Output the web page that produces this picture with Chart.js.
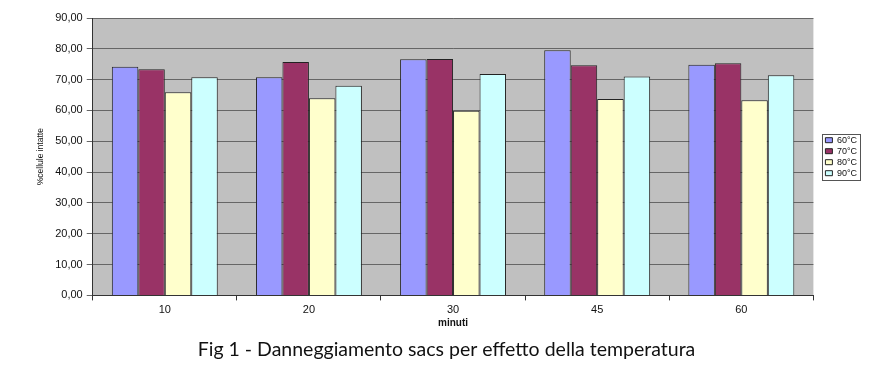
<!DOCTYPE html>
<html>
<head>
<meta charset="utf-8">
<script src="https://cdn.jsdelivr.net/npm/chart.js@4.4.1/dist/chart.umd.min.js"></script>
<style>
  html, body { margin: 0; padding: 0; background: #fff; }
  #wrap { width: 887px; height: 377px; }
</style>
</head>
<body>
<div id="wrap"><canvas id="chart" width="887" height="377"></canvas></div>
<script>
// minuti
const categories = ['10', '20', '30', '45', '60'];
const seriesLabels = ['60°C', '70°C', '80°C', '90°C'];
const t60 = [74.2, 70.8, 76.6, 79.5, 74.8];
const t70 = [73.4, 75.7, 76.7, 74.7, 75.3];
const t80 = [65.9, 64.0, 59.9, 63.7, 63.3];
const t90 = [70.8, 68.0, 71.8, 71.0, 71.4];
const colors = ['#9999FF', '#993366', '#FFFFCC', '#CCFFFF'];

const plotBg = {
    id: 'plotBg',
    beforeDraw(chart) {
        const { ctx, chartArea: a } = chart;
        ctx.save();
        ctx.fillStyle = '#C0C0C0';
        ctx.fillRect(a.left, a.top, a.right - a.left, a.bottom - a.top);
        ctx.restore();
    }
};

// legend sits a bit away from the plot, centred on the plot height, with a frame
const legendBox = {
    id: 'legendBox',
    afterLayout(chart) {
        const lg = chart.legend;
        lg.left += 10;
        lg.right += 10;
        lg.top = chart.chartArea.top;
        lg.bottom = chart.chartArea.bottom;
    },
    afterDraw(chart) {
        const boxes = chart.legend.legendHitBoxes;
        if (!boxes || !boxes.length) return;
        const l = Math.min(...boxes.map(b => b.left)) - 3;
        const r = Math.max(...boxes.map(b => b.left + b.width)) + 3;
        const t = boxes[0].top - 2;
        const b = boxes[boxes.length - 1].top + boxes[boxes.length - 1].height + 2;
        const { ctx } = chart;
        ctx.save();
        ctx.strokeStyle = '#555';
        ctx.lineWidth = 1;
        ctx.strokeRect(Math.round(l) + 0.5, Math.round(t) + 0.5, Math.round(r - l), Math.round(b - t));
        ctx.restore();
    }
};

const ctx = document.getElementById('chart').getContext('2d');
new Chart(ctx, {
    type: 'bar',
    data: {
        labels: categories,
        datasets: [t60, t70, t80, t90].map((d, i) => ({
            label: seriesLabels[i],
            data: d,
            backgroundColor: colors[i],
            borderColor: '#222',
            borderWidth: 1,
            barPercentage: 1,
            categoryPercentage: 0.735,
        })),
    },
    options: {
        responsive: false,
        animation: false,
        layout: { padding: { left: 36, top: 18, right: 30, bottom: 6 } },
        scales: {
            x: {
                grid: { offset: true, drawOnChartArea: false, tickLength: 5, color: '#333' },
                border: { color: '#333' },
                ticks: { color: '#111', font: { family: 'Liberation Sans', size: 11 }, padding: 3 },
                title: {
                    display: true,
                    text: 'minuti',
                    color: '#111',
                    font: { family: 'Liberation Sans', size: 10, weight: 'bold' },
                    padding: { top: -2, bottom: 0 },
                },
            },
            y: {
                min: 0,
                max: 90,
                ticks: {
                    stepSize: 10,
                    color: '#111',
                    font: { family: 'Liberation Sans', size: 11 },
                    padding: 4,
                    callback: (v) => v.toFixed(2).replace('.', ','),
                },
                grid: { color: '#666', tickLength: 6 },
                border: { color: '#333' },
                title: {
                    display: true,
                    text: '%cellule intatte',
                    color: '#111',
                    font: { family: 'Liberation Sans', size: 8.5 },
                    padding: { top: 0, bottom: 5 },
                },
            },
        },
        plugins: {
            legend: {
                position: 'right',
                labels: {
                    boxWidth: 7,
                    boxHeight: 5,
                    padding: 2,
                    color: '#111',
                    font: { family: 'Liberation Sans', size: 9 },
                },
            },
            title: {
                display: true,
                position: 'bottom',
                text: 'Fig 1 - Danneggiamento sacs per effetto della temperatura',
                color: '#111',
                font: { family: 'Lato', size: 19.5, weight: 'normal' },
                padding: { top: 8, bottom: 10 },
            },
            tooltip: { enabled: false },
        },
    },
    plugins: [plotBg, legendBox],
});
</script>
</body>
</html>
